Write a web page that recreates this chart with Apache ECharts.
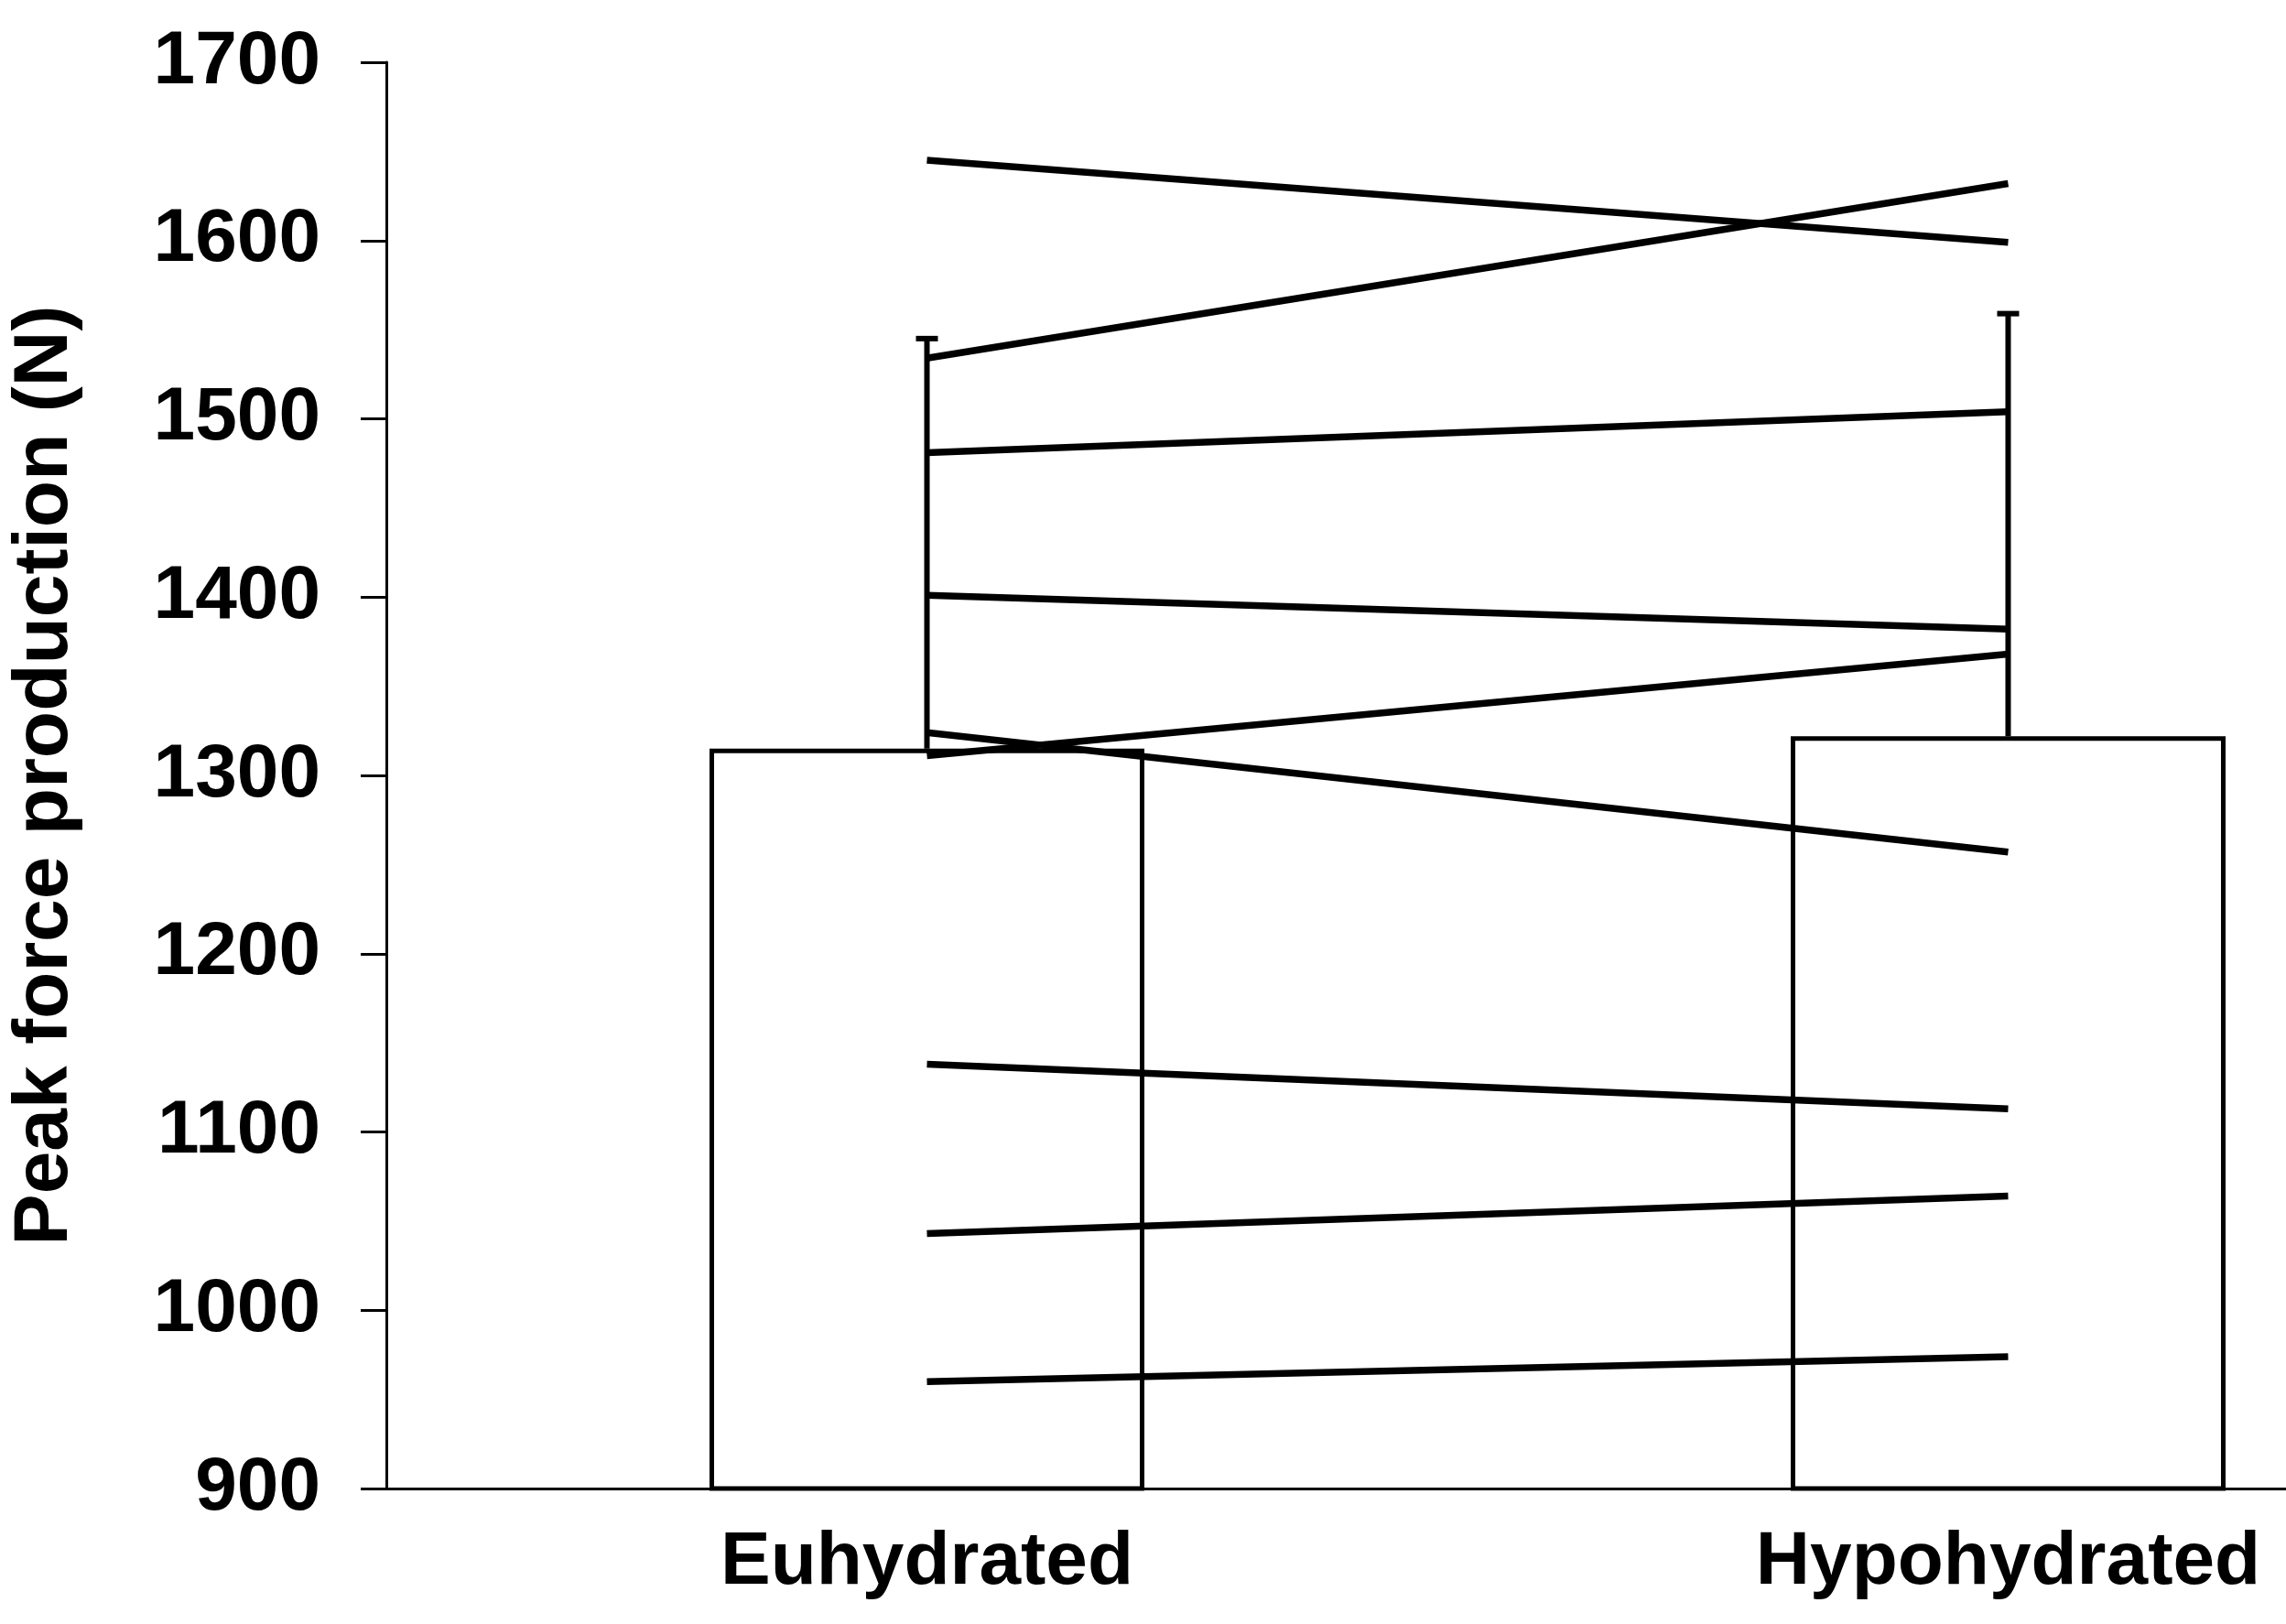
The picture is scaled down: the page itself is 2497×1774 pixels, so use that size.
<!DOCTYPE html>
<html>
<head>
<meta charset="utf-8">
<script src="https://cdn.jsdelivr.net/npm/echarts@6/dist/echarts.min.js"></script>
<style>html,body{margin:0;background:#fff}#c{width:2497px;height:1774px}</style>
</head>
<body>
<div id="c"></div>
<script>
const categories = ['Euhydrated', 'Hypohydrated'];
const means = [1315, 1322];
const upperErr = [1545, 1559];
const subjects = [
  [1645, 1599],
  [1534, 1632],
  [1481, 1504],
  [1401, 1382],
  [1311, 1368],
  [1324, 1257],
  [1138, 1113],
  [1043, 1064],
  [960, 974]
];
const yTicks = [900, 1000, 1100, 1200, 1300, 1400, 1500, 1600, 1700];
const xPos = [0.5, 1.5];

const chart = echarts.init(document.getElementById('c'));
const font = 'Liberation Sans, Arial, sans-serif';

const series = [
  {
    type: 'bar',
    data: xPos.map((x, i) => [x, means[i]]),
    barWidth: 475,
    itemStyle: { color: '#fff', borderColor: '#000', borderWidth: 5 },
    z: 1
  },
  {
    type: 'custom',
    data: xPos.map((x, i) => [x, means[i], upperErr[i]]),
    renderItem: (params, api) => {
      const lo = api.coord([api.value(0), api.value(1)]);
      const hi = api.coord([api.value(0), api.value(2)]);
      return {
        type: 'group',
        children: [
          { type: 'line', shape: { x1: lo[0], y1: lo[1], x2: hi[0], y2: hi[1] }, style: { stroke: '#000', lineWidth: 6 } },
          { type: 'line', shape: { x1: hi[0] - 12, y1: hi[1], x2: hi[0] + 12, y2: hi[1] }, style: { stroke: '#000', lineWidth: 6 } }
        ]
      };
    },
    z: 2
  }
];
subjects.forEach(s => {
  series.push({
    type: 'line',
    data: xPos.map((x, i) => [x, s[i]]),
    symbol: 'none',
    lineStyle: { color: '#000', width: 7.5 },
    z: 3
  });
});

chart.setOption({
  animation: false,
  backgroundColor: '#fff',
  grid: { left: 409, right: 0, top: 68, bottom: 148 },
  xAxis: {
    type: 'value',
    min: 0,
    max: 1.757,
    interval: 0.5,
    splitLine: { show: false },
    axisTick: { show: false },
    axisLine: { lineStyle: { color: '#000', width: 3 } },
    axisLabel: {
      customValues: xPos,
      formatter: v => categories[xPos.indexOf(v)] || '',
      color: '#000', fontSize: 82, fontWeight: 'bold', fontFamily: font, margin: 40
    }
  },
  yAxis: {
    type: 'value',
    min: 900,
    max: 1700,
    interval: 100,
    splitLine: { show: false },
    axisLine: { show: true, lineStyle: { color: '#000', width: 3 } },
    axisTick: { show: true, length: 28, lineStyle: { color: '#000', width: 3 } },
    axisLabel: { color: '#000', fontSize: 82, fontWeight: 'bold', fontFamily: font, margin: 72,
      formatter: v => yTicks.includes(v) ? String(v) : '' },
    name: 'Peak force production (N)',
    nameLocation: 'middle',
    nameGap: 330,
    nameTextStyle: { color: '#000', fontSize: 84, fontWeight: 'bold', fontFamily: font }
  },
  series
});
</script>
</body>
</html>
